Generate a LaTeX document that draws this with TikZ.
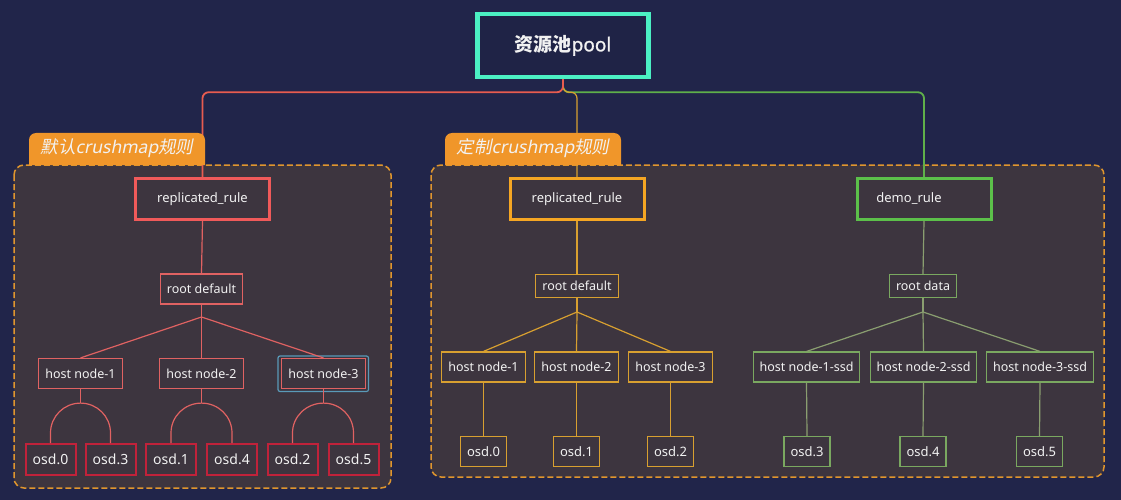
\documentclass[tikz,border=0pt]{standalone}
\usepackage{fontspec}
\setmainfont{Noto Sans}
\newfontfamily\cjk{Noto Sans CJK SC}
\newfontfamily\cjkit[FakeSlant=0.2]{Noto Sans CJK SC}
\newfontfamily\latit[FakeSlant=0.2]{Noto Sans}
\newfontfamily\latbold[FakeBold=1.2]{Noto Sans}
\usetikzlibrary{calc}
\definecolor{bg}{HTML}{21254A}
\definecolor{poolfill}{HTML}{1F2346}
\definecolor{teal}{HTML}{4BF0C3}
\definecolor{panel}{HTML}{3D353F}
\definecolor{dashc}{HTML}{E0962E}
\definecolor{labfill}{HTML}{F0962A}
\definecolor{txt}{HTML}{F2F2F2}
\definecolor{redthick}{HTML}{F05A5A}
\definecolor{redthin}{HTML}{E06262}
\definecolor{redosd}{HTML}{C0223A}
\definecolor{redline}{HTML}{E85C50}
\definecolor{orthick}{HTML}{F5A623}
\definecolor{orthin}{HTML}{D8A030}
\definecolor{grthick}{HTML}{5CC04A}
\definecolor{grthin}{HTML}{7AA860}
\definecolor{grline}{HTML}{8A9E70}
\definecolor{grmain}{HTML}{5FB04A}
\definecolor{selblue}{HTML}{5A9AB8}
\tikzset{
  x=1pt, y=-1pt,
  box/.style={draw, fill=panel, text=txt, inner sep=0pt, font=\fontsize{12.5}{14}\selectfont},
  rulebox/.style={box, line width=3pt, minimum width=134pt, minimum height=41pt, font=\fontsize{13}{15}\selectfont},
  rootbox/.style={box, line width=1.2pt},
  hostbox/.style={box, line width=1.2pt, minimum height=30pt, minimum width=84pt},
  osdbox/.style={box, line width=1.2pt, minimum height=30pt, minimum width=46pt, font=\fontsize{13}{15}\selectfont},
  osdred/.style={box, draw=redosd, line width=2pt, minimum height=31pt, minimum width=50pt, font=\fontsize{14}{16}\selectfont},
  panelbox/.style={fill=panel, draw=dashc, line width=1.5pt, dash pattern=on 6pt off 3pt, rounded corners=10pt},
  labtext/.style={text=txt, inner sep=0pt, font=\fontsize{17.5}{19}\selectfont},
  conn/.style={line width=1.2pt},
}
\begin{document}
\begin{tikzpicture}
\fill[bg] (0,0) rectangle (1121,500);
\useasboundingbox (0,0) rectangle (1121,500);

% panels
\path[panelbox] (14,165) rectangle (391,488);
\path[panelbox] (431,165) rectangle (1104,477);

% pool
\node[draw=teal, line width=4.5pt, fill=poolfill, text=txt, minimum width=171pt, minimum height=63pt, inner sep=0pt,
  font=\fontsize{19}{21}\selectfont] (pool) at (563,45.5) {{\cjk\bfseries 资源池}{\latbold pool}};

% rule boxes
\node[rulebox, draw=redthick] (rrL) at (202.5,199) {replicated\_rule};
\node[rulebox, draw=orthick] (rrR) at (577,199) {replicated\_rule};
\node[rulebox, draw=grthick] (demo) at (924,199) {\hspace*{-30pt}demo\_rule};

% top connectors
\draw[grmain, line width=1.8pt, rounded corners=6pt] (pool.south) -- ++(0,13) -| (demo.north);
\draw[orthin, line width=1.2pt, rounded corners=6pt] (pool.south) -- ++(0,13) -| (rrR.north);
\draw[redline, line width=1.8pt, rounded corners=6pt] (pool.south) -- ++(0,13) -| (rrL.north);

% labels
\fill[labfill] (29,165) {[rounded corners=7pt] -- (29,133) -- (205,133)} -- (205,165) -- cycle;
\node[labtext] (labL) at (117,148.5) {{\cjkit 默认}{\latit crushmap}{\cjkit 规则}};
\fill[labfill] (445,165) {[rounded corners=7pt] -- (445,133) -- (621,133)} -- (621,165) -- cycle;
\node[labtext] (labR) at (533,148.5) {{\cjkit 定制}{\latit crushmap}{\cjkit 规则}};

% redraw rule boxes on top
\node[rulebox, draw=redthick] at (202.5,199) {replicated\_rule};
\node[rulebox, draw=orthick] at (577,199) {replicated\_rule};
\node[rulebox, draw=grthick] at (924,199) {\hspace*{-30pt}demo\_rule};

% ---------- left group ----------
\node[rootbox, draw=redthin, minimum width=82pt, minimum height=30pt] (rdL) at (201.5,289) {root default};
\coordinate (bL) at (201.5,317);
\node[hostbox, draw=redthin] (h1L) at (80.5,373.5) {host node-1};
\node[hostbox, draw=redthin] (h2L) at (201.5,373.5) {host node-2};
\node[hostbox, draw=redthin] (h3L) at (323.5,373.5) {host node-3};
\draw[selblue, line width=1.2pt, rounded corners=2pt] (278,356) rectangle (368.5,391.5);
\node[osdred] (o0) at (50.5,459.5) {osd.0};
\node[osdred] (o3) at (110.5,459.5) {osd.3};
\node[osdred] (o1) at (171,459.5) {osd.1};
\node[osdred] (o4) at (232,459.5) {osd.4};
\node[osdred] (o2) at (292.5,459.5) {osd.2};
\node[osdred] (o5) at (353.5,459.5) {osd.5};
\begin{scope}[redthin, conn]
\draw (rrL.south) -- (rdL.north);
\draw (rdL.south) -- (bL);
\draw (bL) -- (h1L.north);
\draw (bL) -- (h2L.north);
\draw (bL) -- (h3L.north);
\draw (h1L.south) -- ++(0,14) coordinate (t1);
\draw (h2L.south) -- ++(0,14) coordinate (t2);
\draw (h3L.south) -- ++(0,14) coordinate (t3);
\draw (o0.north) -- ++(0,-10) .. controls +(0,-16.6) and +(-16.6,0) .. (t1)
      .. controls +(16.6,0) and +(0,-16.6) .. ($(o3.north)+(0,-10)$) -- (o3.north);
\draw (o1.north) -- ++(0,-10) .. controls +(0,-16.8) and +(-16.8,0) .. (t2)
      .. controls +(16.8,0) and +(0,-16.8) .. ($(o4.north)+(0,-10)$) -- (o4.north);
\draw (o2.north) -- ++(0,-10) .. controls +(0,-16.8) and +(-16.8,0) .. (t3)
      .. controls +(16.8,0) and +(0,-16.8) .. ($(o5.north)+(0,-10)$) -- (o5.north);
\end{scope}

% ---------- right group: replicated ----------
\node[rootbox, draw=orthin, minimum width=83pt, minimum height=23pt] (rdR) at (577,286) {root default};
\coordinate (bR) at (577,312);
\node[hostbox, draw=orthin] (h1R) at (483.5,367) {host node-1};
\node[hostbox, draw=orthin] (h2R) at (576.5,367) {host node-2};
\node[hostbox, draw=orthin] (h3R) at (670.5,367) {host node-3};
\node[osdbox, draw=orthin] (r0) at (483.5,451.5) {osd.0};
\node[osdbox, draw=orthin] (r1) at (576.5,451.5) {osd.1};
\node[osdbox, draw=orthin] (r2) at (670.5,451.5) {osd.2};
\begin{scope}[orthin, conn]
\draw (rrR.south) -- (rdR.north);
\draw (rdR.south) -- (bR);
\draw (bR) -- (h1R.north);
\draw (bR) -- (h2R.north);
\draw (bR) -- (h3R.north);
\draw (h1R.south) -- (r0.north);
\draw (h2R.south) -- (r1.north);
\draw (h3R.south) -- (r2.north);
\end{scope}

% ---------- right group: demo ----------
\node[rootbox, draw=grthin, minimum width=67pt, minimum height=23pt] (rdD) at (923,286) {root data};
\coordinate (bD) at (923,312);
\node[hostbox, draw=grthin, minimum width=106pt] (h1D) at (806.5,367) {host node-1-ssd};
\node[hostbox, draw=grthin, minimum width=106pt] (h2D) at (923.5,367) {host node-2-ssd};
\node[hostbox, draw=grthin, minimum width=107pt] (h3D) at (1040,367) {host node-3-ssd};
\node[osdbox, draw=grthin] (d3) at (807,451.5) {osd.3};
\node[osdbox, draw=grthin] (d4) at (923,451.5) {osd.4};
\node[osdbox, draw=grthin] (d5) at (1039.5,451.5) {osd.5};
\begin{scope}[grline, conn]
\draw (demo.south) -- (rdD.north);
\draw (rdD.south) -- (bD);
\draw (bD) -- (h1D.north);
\draw (bD) -- (h2D.north);
\draw (bD) -- (h3D.north);
\draw (h1D.south) -- (d3.north);
\draw (h2D.south) -- (d4.north);
\draw (h3D.south) -- (d5.north);
\end{scope}
\end{tikzpicture}
\end{document}
